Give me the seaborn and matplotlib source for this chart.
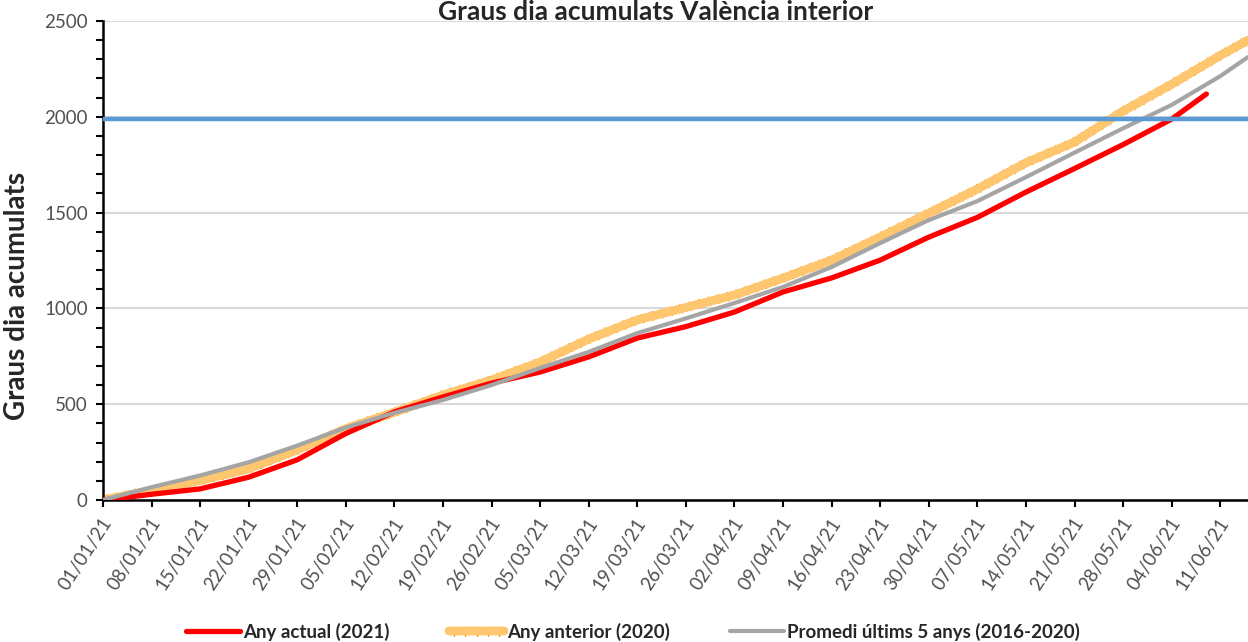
import pandas as pd
import matplotlib
matplotlib.use("Agg")
import matplotlib.pyplot as plt
import matplotlib.patheffects as pe
import matplotlib.transforms as mtransforms
from matplotlib.ticker import MultipleLocator
import seaborn as sns

# Dades llegides del gràfic (dia 0 = 01/01/21)
dies_2021 = [0, 7, 14, 21, 28, 35, 42, 49, 56, 63, 70, 77, 84, 91, 98, 105,
             112, 119, 126, 133, 140, 147, 154, 159]
any_actual = [0, 30, 58, 119, 210, 347, 460, 538, 610, 668, 747, 845, 905, 981,
              1086, 1159, 1252, 1372, 1475, 1607, 1730, 1855, 1988, 2119]

dies_ref = [0, 7, 14, 21, 28, 35, 42, 49, 56, 63, 70, 77, 84, 91, 98, 105,
            112, 119, 126, 133, 140, 147, 154, 161, 165]
any_anterior = [0, 50, 102, 163, 262, 372, 458, 548, 626, 720, 840, 940, 1005,
                1070, 1158, 1252, 1372, 1497, 1623, 1760, 1868, 2030, 2170,
                2320, 2400]
promedi_5 = [0, 67, 128, 197, 284, 378, 455, 522, 600, 689, 773, 871, 948,
             1028, 1112, 1216, 1341, 1461, 1560, 1685, 1813, 1940, 2062,
             2212, 2312]

llindar = 1990
etiquetes = ["Any actual (2021)", "Any anterior (2020)",
             "Promedi últims 5 anys (2016-2020)"]

inici = pd.Timestamp("2021-01-01")
data_2021 = inici + pd.to_timedelta(dies_2021, unit="D")
data_ref = inici + pd.to_timedelta(dies_ref, unit="D")
setmanes = pd.date_range("2021-01-01", "2021-06-11", freq="7D")

# Estil
sns.set_style("ticks")
plt.rcParams["font.family"] = ["Lato", "DejaVu Sans"]

fig = plt.figure(figsize=(12.48, 6.42), dpi=100)
ax = fig.add_axes([103 / 1248, 1 - 500 / 642, 1 - 103 / 1248, 479 / 642])

# Any anterior: línia gruixuda amb trama
trama = [pe.Normal(),
         pe.withTickedStroke(angle=90, spacing=7, length=0.45,
                             linewidth=1.0, foreground="#FF9A00"),
         pe.withTickedStroke(angle=-90, spacing=7, length=0.45,
                             linewidth=1.0, foreground="#FF9A00")]
sns.lineplot(x=data_ref, y=any_anterior, ax=ax, color="#FFC670", lw=6,
             label=etiquetes[1], zorder=2, path_effects=trama)
sns.lineplot(x=data_2021, y=any_actual, ax=ax, color="#FF0000", lw=3.8,
             label=etiquetes[0], zorder=3, solid_capstyle="round")
sns.lineplot(x=data_ref, y=promedi_5, ax=ax, color="#A5A5A5", lw=3,
             label=etiquetes[2], zorder=4)
ax.axhline(llindar, color="#5B9BD5", lw=3.2, zorder=5)

# Eixos
ax.set_ylim(0, 2500)
ax.set_xlim(inici, inici + pd.Timedelta(days=165))
ax.yaxis.set_major_locator(MultipleLocator(500))
ax.yaxis.set_minor_locator(MultipleLocator(100))
ax.grid(axis="y", which="major", color="#D9D9D9", lw=1.5, zorder=0)
ax.set_axisbelow(True)

ax.set_xticks(setmanes)
ax.set_xticklabels([d.strftime("%d/%m/%y") for d in setmanes], rotation=57,
                   ha="right", va="center", rotation_mode="anchor")
ax.tick_params(axis="x", length=5, width=1.5, color="black", pad=9,
               labelsize=13.5, labelcolor="#505050")
ax.tick_params(axis="y", which="both", length=5, width=1.5, color="black",
               labelsize=13.5, labelcolor="#505050")
ax.tick_params(axis="y", which="major", pad=6)
despl = mtransforms.ScaledTranslation(5 / 100, 0, fig.dpi_scale_trans)
for t in ax.get_xticklabels():
    t.set_transform(t.get_transform() + despl)

for s in ["top", "right"]:
    ax.spines[s].set_visible(False)
for s in ["left", "bottom"]:
    ax.spines[s].set_linewidth(1.8)
    ax.spines[s].set_color("black")

ax.set_xlabel("")
ax.set_ylabel("Graus dia acumulats", fontsize=20, fontweight="bold")
ax.yaxis.set_label_coords((30 - 103) / 1145, (500 - 296) / 479)

fig.text(0.525, 1.0, "Graus dia acumulats València interior",
         ha="center", va="top", fontsize=19, fontweight="bold")

# Llegenda
h, l = ax.get_legend_handles_labels()
ordre = [l.index(e) for e in etiquetes]
ax.legend([h[i] for i in ordre], [l[i] for i in ordre], loc="center",
          bbox_to_anchor=(0.507, 10 / 642), bbox_transform=fig.transFigure,
          ncol=3, frameon=False, prop={"weight": "bold", "size": 13.5},
          handlelength=2.9, handletextpad=0.16, columnspacing=3.2)

fig.savefig("out.png", dpi=100)
